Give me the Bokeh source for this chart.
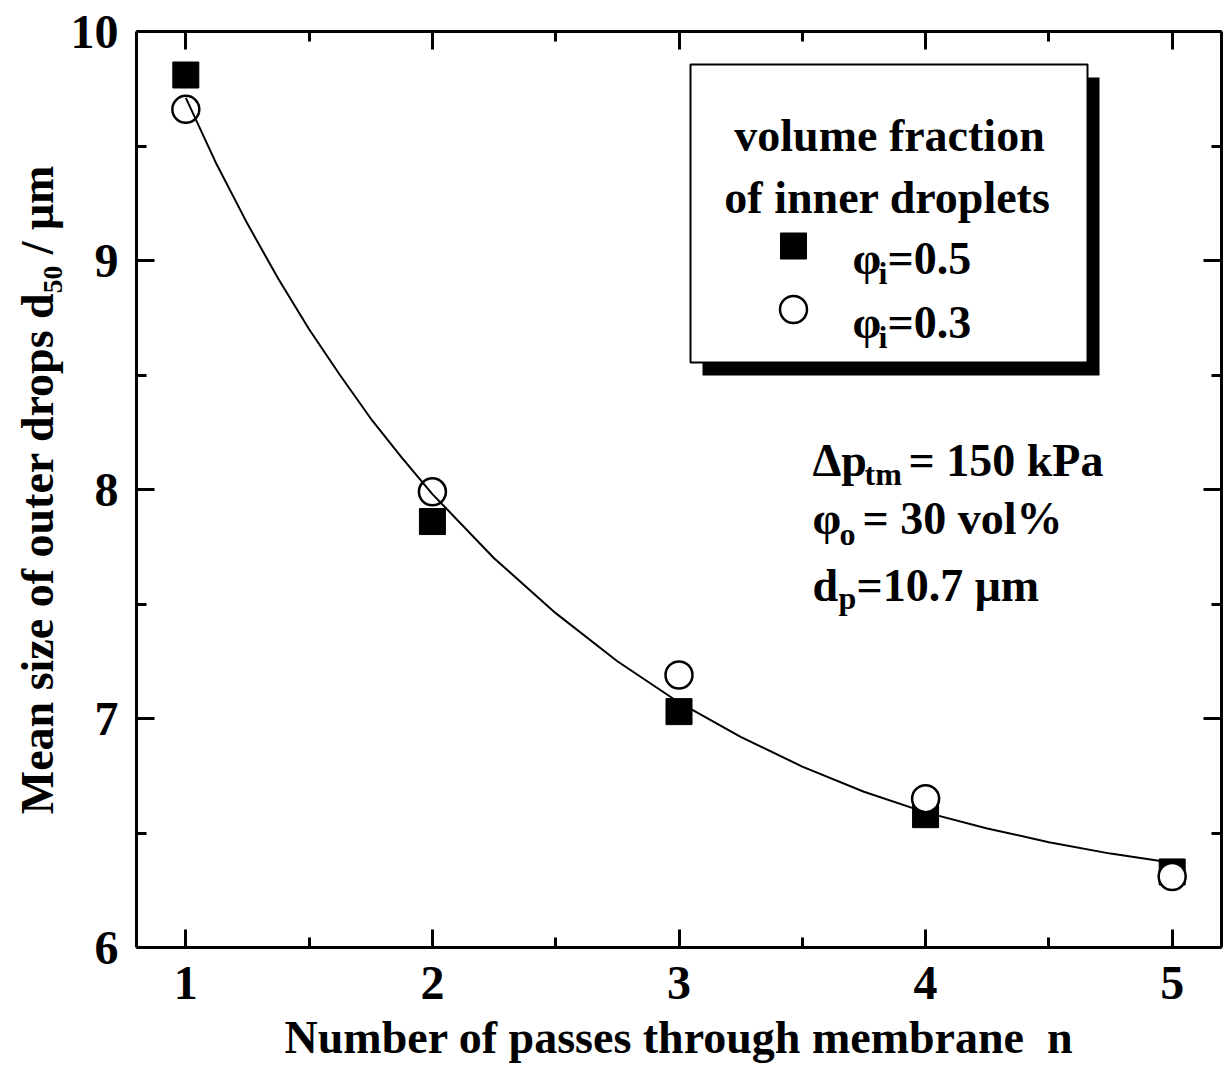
from bokeh.plotting import figure
from bokeh.models import Range1d, FixedTicker, LinearAxis, Label, BoxAnnotation
from bokeh.embed import file_html
from bokeh.resources import INLINE

# ---- data ----
passes = [1, 2, 3, 4, 5]
d50_phi05 = [9.81, 7.86, 7.03, 6.58, 6.33]
d50_phi03 = [9.66, 7.99, 7.19, 6.65, 6.31]

fit_n = [1.0, 1.125, 1.25, 1.375, 1.5, 1.625, 1.75, 1.875, 2.0,
         2.25, 2.5, 2.75, 3.0, 3.25, 3.5, 3.75, 4.0, 4.25, 4.5, 4.75, 5.0]
fit_d50 = [9.71, 9.42, 9.16, 8.92, 8.70, 8.50, 8.31, 8.14, 7.98,
           7.70, 7.46, 7.25, 7.07, 6.92, 6.79, 6.68, 6.59, 6.52, 6.46, 6.41, 6.37]

x_ticks = [1, 2, 3, 4, 5]
x_minor = [1.5, 2.5, 3.5, 4.5]
y_ticks = [6, 7, 8, 9, 10]
y_minor = [6.5, 7.5, 8.5, 9.5]

FONT = "Liberation Serif"
FS = "46px"
TFS = "48px"
SUB = "32px"

W, H = 1229, 1067
FL, FR, FT, FB = 136, 1221, 31, 947
X0, X1, Y0, Y1 = 0.8, 5.2, 6.0, 10.0


def X(px):
    return X0 + (px - FL) * (X1 - X0) / (FR - FL)


def Y(py):
    return Y0 + (FB - py) * (Y1 - Y0) / (FB - FT)


p = figure(width=W, height=H, output_backend="svg", toolbar_location=None,
           x_range=Range1d(X0, X1), y_range=Range1d(Y0, Y1),
           min_border_left=FL, min_border_right=W - FR,
           min_border_top=FT, min_border_bottom=H - FB,
           x_axis_label="Number of passes through membrane\u00a0\u00a0n",
           y_axis_label="Mean size of outer drops d\u2085\u2080 / \u03bcm")
p.outline_line_color = None
p.grid.visible = False
p.background_fill_color = "white"
p.border_fill_color = "white"


def style_axis(ax, ticks, minor, labels=True):
    ax.ticker = FixedTicker(ticks=ticks, minor_ticks=minor)
    ax.axis_line_width = 3
    ax.axis_line_color = "black"
    ax.major_tick_in = 18
    ax.major_tick_out = 0
    ax.minor_tick_in = 10
    ax.minor_tick_out = 0
    ax.major_tick_line_width = 3
    ax.minor_tick_line_width = 3
    ax.major_tick_line_color = "black"
    ax.minor_tick_line_color = "black"
    if labels:
        ax.major_label_text_font = FONT
        ax.major_label_text_font_style = "bold"
        ax.major_label_text_font_size = TFS
        ax.major_label_text_color = "black"
        ax.axis_label_text_font = FONT
        ax.axis_label_text_font_style = "bold"
        ax.axis_label_text_font_size = FS
        ax.axis_label_text_color = "black"
    else:
        ax.major_label_text_font_size = "1px"
        ax.major_label_text_color = None
        ax.major_label_standoff = 0


style_axis(p.xaxis[0], x_ticks, x_minor)
style_axis(p.yaxis[0], y_ticks, y_minor)
p.xaxis[0].major_label_standoff = 19
p.xaxis[0].axis_label_standoff = 10
p.yaxis[0].major_label_standoff = 18
p.yaxis[0].axis_label_standoff = 5

top = LinearAxis()
style_axis(top, x_ticks, x_minor, labels=False)
p.add_layout(top, "above")
right = LinearAxis()
style_axis(right, y_ticks, y_minor, labels=False)
p.add_layout(right, "right")

# ---- data marks ----
p.scatter(passes, d50_phi05, marker="square", size=26, fill_color="black", line_color="black")
p.scatter(passes, d50_phi03, marker="circle", size=27, fill_color="white", line_color="black", line_width=2.5)
p.line(fit_n, fit_d50, line_color="black", line_width=2)

# ---- legend box with shadow ----
p.add_layout(BoxAnnotation(left=X(702), right=X(1099), top=Y(77), bottom=Y(375),
                           fill_color="black", fill_alpha=1, line_color=None, level="underlay"))
p.add_layout(BoxAnnotation(left=X(690), right=X(1087), top=Y(64), bottom=Y(362),
                           fill_color="white", fill_alpha=1, line_color="black", line_width=2,
                           line_alpha=1, level="underlay"))
p.scatter([X(793)], [Y(245.5)], marker="square", size=26, fill_color="black", line_color="black")
p.scatter([X(793)], [Y(309)], marker="circle", size=27, fill_color="white", line_color="black", line_width=2.5)


def lab(px, py, text, size=FS, align="left"):
    p.add_layout(Label(x=X(px), y=Y(py), text=text, text_font=FONT, text_font_style="bold",
                       text_font_size=size, text_color="black", text_align=align,
                       text_baseline="alphabetic"))


lab(889, 135, "volume fraction", align="center")
lab(887, 197, "of inner droplets", align="center")
lab(852, 258, "\u03c6")
lab(878, 272, "i", size=SUB)
lab(887, 258, "=0.5")
lab(852, 322, "\u03c6")
lab(878, 336, "i", size=SUB)
lab(887, 322, "=0.3")

# ---- conditions ----
lab(812, 460, "\u0394p")
lab(864, 473, "tm", size=SUB)
lab(908, 460, "= 150 kPa")
lab(812, 518, "\u03c6")
lab(839, 533, "o", size=SUB)
lab(862, 518, "= 30 vol%")
lab(812, 585, "d")
lab(838, 597, "p", size=SUB)
lab(856, 585, "=10.7 \u03bcm")

open("out.html", "w").write(file_html(p, INLINE))
